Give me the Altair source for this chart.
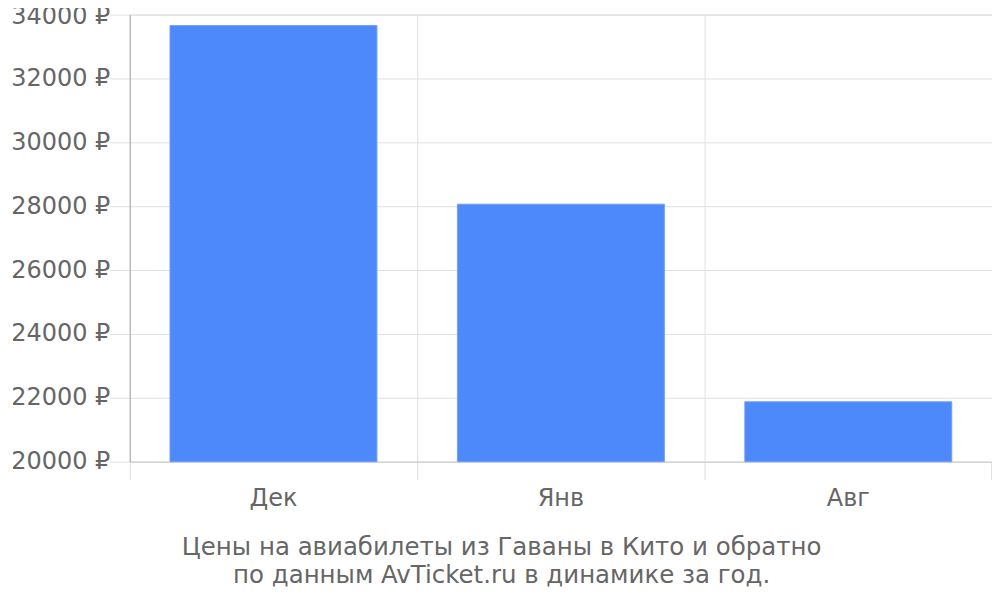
import altair as alt
import pandas as pd

months = ["Дек", "Янв", "Авг"]
prices = [33656, 28062, 21875]
y_ticks = [20000, 22000, 24000, 26000, 28000, 30000, 32000, 34000]
caption = ["Цены на авиабилеты из Гаваны в Кито и обратно",
           "по данным AvTicket.ru в динамике за год."]

df = pd.DataFrame({"month": months, "price": prices})

FONT = "DejaVu Sans"
GRAY = "#666666"

bars = alt.Chart(df).mark_bar(color="#4d89fa", stroke="#6f9ffb", strokeWidth=1,
                              width=alt.RelativeBandSize(0.72)).encode(
    x=alt.X("month:N", sort=months,
            scale=alt.Scale(paddingInner=0, paddingOuter=0),
            axis=alt.Axis(title=None, bandPosition=0, grid=True, gridColor="#e0e0e0",
                          ticks=True, tickSize=18, tickColor="#dddddd",
                          domainColor="#cccccc", labelFont=FONT, labelFontSize=24,
                          labelColor=GRAY, labelPadding=7, labelAngle=0)),
    y=alt.Y("price:Q",
            scale=alt.Scale(domain=[20000, 34000], nice=False, zero=False, clamp=True),
            axis=alt.Axis(title=None, values=y_ticks, format="d",
                          labelExpr="datum.label + ' ₽'",
                          grid=True, gridColor="#e0e0e0", tickSize=20,
                          tickColor="#e0e0e0", domainColor="#aaaaaa",
                          labelFont=FONT, labelFontSize=24, labelColor=GRAY,
                          labelPadding=0,
                          labelOffset={"condition": {"test": "datum.value == 34000", "value": 2},
                                       "value": 0})),
)

edge_tick = alt.Chart(df).mark_rule(color="#dddddd").encode(
    x=alt.value({"expr": "width"}),
    y=alt.value({"expr": "height"}),
    y2=alt.value({"expr": "height + 18"}),
)

chart = alt.layer(bars, edge_tick).properties(
    width=864, height=448,
    padding={"left": 122, "top": 6, "right": 0, "bottom": 130},
    autosize=alt.AutoSizeParams(type="none"),
    title=alt.TitleParams(text=caption, orient="bottom", anchor="middle", frame="bounds",
                          font=FONT, fontSize=24.5, fontWeight="normal", color=GRAY,
                          offset=26, lineHeight=28),
).configure_view(stroke="#e0e0e0")

chart.save("out.html", embed_options={"renderer": "svg", "actions": False})
